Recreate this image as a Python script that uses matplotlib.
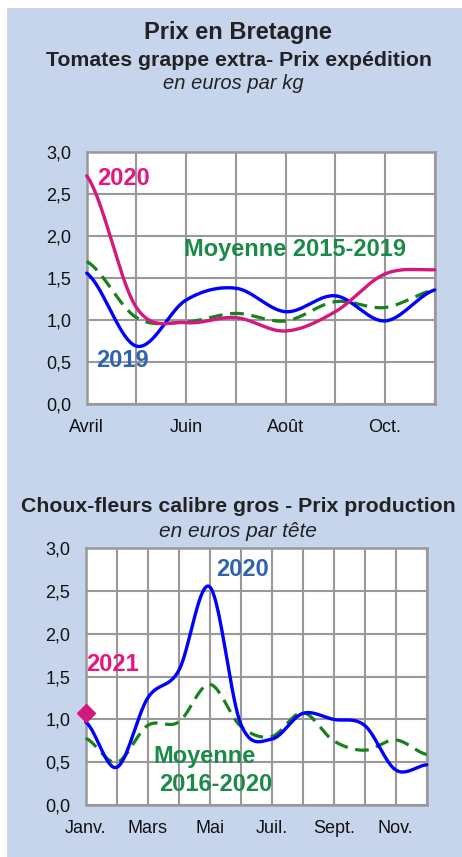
import numpy as np
import matplotlib
matplotlib.use('Agg')
import matplotlib.pyplot as plt
from matplotlib.patches import Rectangle

plt.rcParams['font.family'] = ['Liberation Sans', 'DejaVu Sans']

# ---------------- data ----------------
tomate_mois = ['Avril', 'Mai', 'Juin', 'Juil.', 'Août', 'Sept.', 'Oct.', 'Nov.']
tomate_2020 = [2.72, 1.15, 0.97, 1.03, 0.87, 1.10, 1.55, 1.60]
tomate_2019 = [1.56, 0.69, 1.24, 1.38, 1.10, 1.29, 0.99, 1.36]
tomate_moy = [1.70, 1.03, 0.98, 1.08, 0.99, 1.22, 1.15, 1.36]

chou_mois = ['Janv.', 'Févr.', 'Mars', 'Avril', 'Mai', 'Juin', 'Juil.', 'Août',
             'Sept.', 'Oct.', 'Nov.', 'Déc.']
chou_2020 = [0.97, 0.44, 1.25, 1.57, 2.55, 0.95, 0.77, 1.07, 1.00, 0.93, 0.41, 0.47]
chou_moy = [0.78, 0.50, 0.93, 0.97, 1.41, 0.92, 0.80, 1.08, 0.75, 0.64, 0.76, 0.59]
chou_2021 = [1.07]

y_ticks = [0.0, 0.5, 1.0, 1.5, 2.0, 2.5, 3.0]

# ---------------- style ----------------
W, H = 462, 857
BG = '#c6d5ec'
GRID = '#999999'
MAGENTA = '#d4187f'
MAGENTA_TXT = '#e8147f'
BLUE = '#0000ff'
BLUE_TXT = '#2f63b0'
GREEN = '#18801c'
GREEN_TXT = '#1b8a48'
DARK = '#222222'
LABEL_FS = 17


def smooth(vals, n=40):
    """Excel-like smoothed line (Catmull-Rom) through the monthly points."""
    y = np.asarray(vals, float)
    k = len(y)
    m = np.empty_like(y)
    if k > 2:
        m[1:-1] = (y[2:] - y[:-2]) / 2.0
    m[0] = (y[1] - y[0]) / 2.0
    m[-1] = (y[-1] - y[-2]) / 2.0
    xs, ys = [], []
    t = np.linspace(0, 1, n)
    h00 = 2 * t**3 - 3 * t**2 + 1
    h10 = t**3 - 2 * t**2 + t
    h01 = -2 * t**3 + 3 * t**2
    h11 = t**3 - t**2
    for i in range(k - 1):
        xs.append(i + t)
        ys.append(h00 * y[i] + h10 * m[i] + h01 * y[i + 1] + h11 * m[i + 1])
    return np.concatenate(xs), np.concatenate(ys)


def fx(px):
    return px / W


def fy(py):
    return 1 - py / H


fig = plt.figure(figsize=(W / 100, H / 100), dpi=100)
fig.patch.set_facecolor('white')
fig.patches.append(Rectangle((fx(7), 0), 1 - fx(7), fy(8), transform=fig.transFigure,
                             facecolor=BG, edgecolor='none', zorder=-10))

fig.text(fx(237.5), fy(39), 'Prix en Bretagne', ha='center', va='baseline',
         fontsize=17, fontweight='bold', color=DARK)
fig.text(fx(238.5), fy(66), 'Tomates grappe extra- Prix expédition', ha='center',
         va='baseline', fontsize=15.3, fontweight='bold', color=DARK)
fig.text(fx(233), fy(89), 'en euros par kg', ha='center', va='baseline',
         fontsize=14.5, style='italic', color=DARK)

fig.text(fx(238), fy(511.5), 'Choux-fleurs calibre gros - Prix production', ha='center',
         va='baseline', fontsize=15.3, fontweight='bold', color=DARK)
fig.text(fx(238), fy(537), 'en euros par tête', ha='center', va='baseline',
         fontsize=15, style='italic', color=DARK)


def setup(ax, months, step):
    ax.set_facecolor('white')
    n = len(months)
    ax.set_xlim(0, n - 1)
    ax.set_ylim(0, 3)
    ax.set_xticks(range(n))
    ax.set_xticklabels([m if i % step == 0 else '' for i, m in enumerate(months)])
    ax.set_yticks(y_ticks)
    ax.set_yticklabels([f'{v:.1f}'.replace('.', ',') for v in y_ticks])
    ax.grid(True, color=GRID, linewidth=1.5)
    ax.set_axisbelow(True)
    for s in ax.spines.values():
        s.set_color(GRID)
        s.set_linewidth(1.8)
    ax.tick_params(axis='both', length=0, labelsize=13, colors='#111111')
    ax.tick_params(axis='x', pad=20)
    ax.tick_params(axis='y', pad=11)
    for lbl in ax.get_xticklabels():
        lbl.set_verticalalignment('baseline')


# ---------------- top chart ----------------
ax1 = fig.add_axes([fx(86.7), fy(404), fx(434.7) - fx(86.7), (404 - 152.3) / H])
setup(ax1, tomate_mois, 2)
x, y = smooth(tomate_moy)
ax1.plot(x, y, color=GREEN, lw=2.3, dashes=(4.3, 2.4), clip_on=False, zorder=3)
x, y = smooth(tomate_2019)
ax1.plot(x, y, color=BLUE, lw=2.4, clip_on=False, zorder=4, solid_capstyle='round')
x, y = smooth(tomate_2020)
ax1.plot(x, y, color=MAGENTA, lw=2.4, clip_on=False, zorder=5, solid_capstyle='round')
ax1.text(0.2, 2.69, '2020', color=MAGENTA_TXT, fontsize=LABEL_FS, fontweight='bold',
         ha='left', va='center', zorder=6)
ax1.text(0.18, 0.52, '2019', color=BLUE_TXT, fontsize=LABEL_FS, fontweight='bold',
         ha='left', va='center', zorder=6)
ax1.text(1.95, 1.84, 'Moyenne 2015-2019', color=GREEN_TXT, fontsize=LABEL_FS,
         fontweight='bold', ha='left', va='center', zorder=6)

# ---------------- bottom chart ----------------
ax2 = fig.add_axes([fx(85.7), fy(805), fx(426.7) - fx(85.7), (805 - 548.3) / H])
setup(ax2, chou_mois, 2)
x, y = smooth(chou_moy)
ax2.plot(x, y, color=GREEN, lw=2.3, dashes=(4.3, 2.4), clip_on=False, zorder=3)
x, y = smooth(chou_2020)
ax2.plot(x, y, color=BLUE, lw=2.4, clip_on=False, zorder=4, solid_capstyle='round')
ax2.plot(range(len(chou_2021)), chou_2021, linestyle='none', marker='D', markersize=9,
         color=MAGENTA, clip_on=False, zorder=6)
ax2.text(4.22, 2.75, '2020', color=BLUE_TXT, fontsize=LABEL_FS, fontweight='bold',
         ha='left', va='center', zorder=6)
ax2.text(0.0, 1.64, '2021', color=MAGENTA_TXT, fontsize=LABEL_FS, fontweight='bold',
         ha='left', va='center', zorder=6)
ax2.text(3.83, 0.57, 'Moyenne', color=GREEN_TXT, fontsize=LABEL_FS, fontweight='bold',
         ha='center', va='center', zorder=6)
ax2.text(4.2, 0.245, '2016-2020', color=GREEN_TXT, fontsize=LABEL_FS, fontweight='bold',
         ha='center', va='center', zorder=6)

fig.savefig('out.png', dpi=100, facecolor=fig.get_facecolor())
